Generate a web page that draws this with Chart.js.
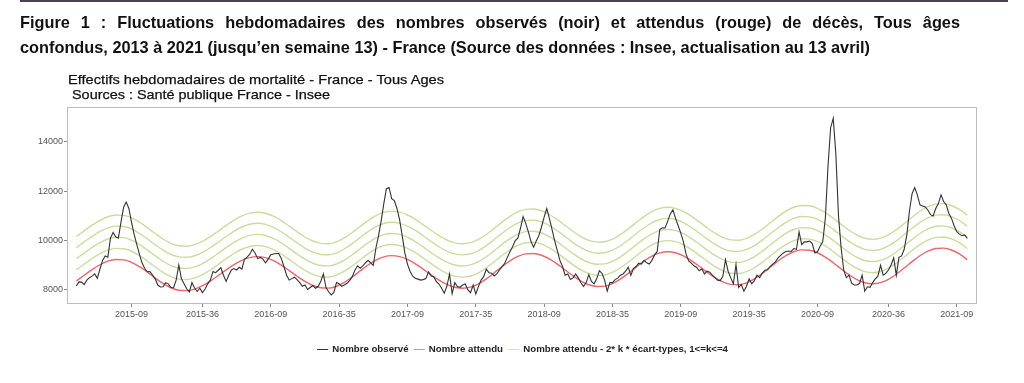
<!DOCTYPE html>
<html>
<head>
<meta charset="utf-8">
<script src="https://cdn.jsdelivr.net/npm/chart.js@4/dist/chart.umd.min.js"></script>
<style>
html,body{margin:0;padding:0;background:#fff;}
#wrap{position:relative;width:1024px;height:383px;overflow:hidden;background:#fff;}
#topline{position:absolute;left:20px;top:0;width:988px;height:2px;background:#4b3f5c;}
.t{position:absolute;white-space:nowrap;transform-origin:0 0;font-family:"Liberation Sans Narrow","Liberation Sans",Arial,sans-serif;color:#111;line-height:1;}
#fig1{left:20px;top:14px;font-size:16.5px;font-weight:bold;}
#fig2{left:20px;top:39px;font-size:16.5px;font-weight:bold;}
#ct1{left:68px;top:73px;font-size:13px;color:#111;-webkit-text-stroke:0.25px #111;}
#ct2{left:72px;top:88px;font-size:13px;color:#111;-webkit-text-stroke:0.25px #111;}
#legend{left:317px;top:344px;font-size:9.5px;font-weight:bold;color:#222;font-family:"Liberation Sans",Arial,sans-serif;}
#legend .sw{display:inline-block;width:11px;height:0;border-top:1.5px solid;vertical-align:middle;margin:0 4px 0 0;}
#legend .it{margin-right:5px;}
canvas{position:absolute;left:0;top:0;}
</style>
</head>
<body>
<div id="wrap">
<canvas id="c" width="1024" height="383"></canvas>
<div id="topline"></div>
<div class="t" id="fig1">Figure 1 : Fluctuations hebdomadaires des nombres observés (noir) et attendus (rouge) de décès, Tous âges</div>
<div class="t" id="fig2">confondus, 2013 à 2021 (jusqu’en semaine 13) - France (Source des données : Insee, actualisation au 13 avril)</div>
<div class="t" id="ct1">Effectifs hebdomadaires de mortalité  - France - Tous Ages</div>
<div class="t" id="ct2">Sources : Santé publique France - Insee</div>
<div class="t" id="legend"></div>
</div>
<script>
// ---------- DATA ----------
// ISO weeks covered: [year, first week, last week]
const weekRanges = [[2014,40,52],[2015,1,53],[2016,1,52],[2017,1,52],[2018,1,52],[2019,1,52],[2020,1,53],[2021,1,13]];
const tickLabels = ['2015-09','2015-36','2016-09','2016-35','2017-09','2017-35','2018-09','2018-35','2019-09','2019-35','2020-09','2020-36','2021-09'];
const yTicks = [8000,10000,12000,14000];

// Weekly observed deaths (black)
const observed = [
8160,8330,8320,8220,8400,8500,8560,8650,8470,8850,
9200,9380,9330,10100,10330,10150,10100,10750,11350,11560,
11300,10750,10250,9850,9450,9100,8880,8740,8750,8600,
8450,8200,8120,8130,8300,8250,8100,8090,8400,9010,
8450,8250,8050,7920,8300,8080,7940,8070,7890,8040,
8250,8400,8750,8700,8800,8900,8600,8350,8600,8810,
8870,8810,8920,8850,9250,9330,9450,9650,9500,9270,
9320,9250,9100,9250,9430,9460,9480,9480,9280,8950,
8600,8400,8460,8520,8420,8300,8150,8200,8020,8100,
8180,8070,8140,8340,8650,8100,7930,7800,7900,8300,
8250,8150,8200,8270,8380,8540,8800,8980,8880,8980,
9100,9200,9100,9000,9700,10200,10800,11500,12100,12150,
11700,11620,11300,10850,10200,9500,9050,8750,8560,8480,
8440,8400,8420,8460,8730,8570,8540,8340,8240,8070,
7870,8150,8650,7850,8300,8140,8110,8200,8240,8000,
7890,8200,7840,8135,8400,8540,8840,8700,8680,8570,
8650,8810,8945,9080,9320,9550,9755,10000,10100,10500,
10970,10700,10350,9960,9730,9980,10200,10550,10950,11300,
10900,10450,10000,9600,9200,8950,8600,8650,8430,8490,
8650,8490,8290,8140,8300,8620,8350,8250,8450,8780,
8680,8400,7950,8300,8300,8420,8480,8600,8650,8760,
8920,8590,8880,8950,9090,9050,9200,9100,9050,9200,
9420,9550,10450,10520,10510,10780,11080,11250,10900,10600,
10300,9950,9450,9180,9090,8980,8920,8780,8860,8650,
8760,8720,8600,8500,8400,8380,8550,9230,8760,8490,
8250,9030,8100,8220,7950,8150,8450,8250,8380,8600,
8500,8680,8800,8820,8960,9050,9140,9300,9400,9500,
9560,9580,9560,9680,9650,10350,9840,9950,9950,9980,
9880,9500,9550,9770,9950,10900,13000,14560,14950,13500,
11000,9700,8800,8500,8600,8280,8200,8200,8260,8600,
7950,8130,8110,8300,8450,8560,9000,8600,8670,8810,
9010,9300,8600,9320,9380,9650,10230,11200,11900,12150,
11850,11450,11400,11360,11240,11050,11000,11300,11500,11850,
11580,11450,11100,10900,10600,10360,10260,10200,10230,10090
];

// Expected deaths (red), read every 3rd week
const expectedEvery = 3;
const expected = [
8366,8595,8824,9022,9166,9235,9220,9119,8945,8724,
8486,8265,8091,7990,7974,8038,8172,8361,8583,8814,
9027,9200,9311,9350,9308,9189,9008,8787,8557,8346,
8183,8089,8075,8152,8310,8526,8772,9011,9211,9344,
9390,9350,9236,9060,8845,8615,8400,8224,8110,8070,
8116,8248,8448,8693,8947,9179,9360,9464,9480,9408,
9257,9050,8810,8570,8363,8212,8140,8156,8260,8441,
8673,8927,9171,9372,9504,9550,9506,9382,9192,8960,
8720,8499,8329,8229,8215,8292,8450,8668,8920,9172,
9390,9549,9624,9610,9508,9332,9105,8857,8619,8423,
8295,8250,8297,8432,8638,8888,9148,9387,9572,9679,
9695,9620,9464,9230
];
// standard deviation used for the green bands: expected + 2*k*sd, k = 1..4
const ecartType = 225;
const bandK = [1,2,3,4];

// ---------- BUILD ----------
const weeks = [];
weekRanges.forEach(([y,a,b]) => { for (let w=a; w<=b; w++) weeks.push(y + '-' + String(w).padStart(2,'0')); });

const FONT = '"Liberation Sans", Arial, sans-serif';
const obsPts = observed.map((v,i)=>({x:i,y:v}));
const expPts = expected.map((v,j)=>({x:j*expectedEvery,y:v}));
const bandSets = bandK.map(k => ({
  label: 'Nombre attendu - 2* k * écart-types, 1<=k<=4',
  data: expected.map((v,j)=>({x:j*expectedEvery,y:v + 2*k*ecartType})),
  borderColor:'#cbdd9e', borderWidth:1.4, pointRadius:0,
  cubicInterpolationMode:'monotone', fill:false
}));

const panelBorder = {
  id:'panelBorder',
  afterDraw(chart){
    const {ctx, chartArea:a} = chart;
    ctx.save();
    ctx.strokeStyle = '#bdbdbd'; ctx.lineWidth = 1;
    ctx.strokeRect(Math.round(a.left)+0.5, Math.round(a.top)+0.5, Math.round(a.right-a.left)-1, Math.round(a.bottom-a.top)-1);
    ctx.restore();
  }
};

new Chart(document.getElementById('c'), {
  type:'line',
  data:{datasets:[
    {label:'Nombre observé', data:obsPts, borderColor:'#333333', borderWidth:1.1, pointRadius:0, tension:0, fill:false},
    {label:'Nombre attendu', data:expPts, borderColor:'#e8686c', borderWidth:1.4, pointRadius:0, cubicInterpolationMode:'monotone', fill:false},
    ...bandSets
  ]},
  options:{
    responsive:false, animation:false, devicePixelRatio:1,
    layout:{padding:{left:0,right:47,top:107,bottom:59}},
    plugins:{legend:{display:false}, tooltip:{enabled:false}, title:{display:false}},
    scales:{
      x:{type:'linear', min:-3.54, max:342.7,
         afterFit(s){ s.height = 20; },
         afterBuildTicks(s){ s.ticks = tickLabels.map(l=>({value:weeks.indexOf(l)})); },
         ticks:{callback:(v)=>weeks[v], maxRotation:0, autoSkip:false, font:{size:9, family:FONT}, color:'#555', padding:2},
         grid:{drawOnChartArea:false, tickLength:3, color:'#888', tickColor:'#888'},
         border:{display:false}},
      y:{type:'linear', min:7433, max:15409,
         afterFit(s){ s.width = 67; },
         afterBuildTicks(s){ s.ticks = yTicks.map(v=>({value:v})); },
         ticks:{callback:(v)=>String(v), font:{size:9, family:FONT}, color:'#555', padding:1},
         grid:{drawOnChartArea:false, tickLength:3, color:'#888', tickColor:'#888'},
         border:{display:false}}
    }
  },
  plugins:[panelBorder]
});

// ---------- TEXT LAYOUT ----------
const lg = document.getElementById('legend');
[['Nombre observé','#333333'],['Nombre attendu','#ef8a8c'],['Nombre attendu - 2* k * écart-types, 1<=k<=4','#d3e4ae']].forEach(([t,c])=>{
  const s = document.createElement('span'); s.className='it';
  const sw = document.createElement('span'); sw.className='sw'; sw.style.borderColor=c;
  s.appendChild(sw); s.appendChild(document.createTextNode(t)); lg.appendChild(s);
});
function fitTo(id, target){
  const el = document.getElementById(id);
  const w = el.getBoundingClientRect().width;
  const k = target / w;
  el.style.transform = 'scaleX(' + k + ')';
  return k;
}
const k2 = fitTo('fig2', 850);
// first title line: same condensing, justified by word spacing
(function(){
  const el = document.getElementById('fig1');
  el.style.transform = 'scaleX(' + k2 + ')';
  const w = el.getBoundingClientRect().width;
  const nSp = (el.textContent.match(/ /g)||[]).length;
  const extra = (940 - w) / k2 / nSp;
  el.style.wordSpacing = extra + 'px';
})();
fitTo('ct1', 376);
fitTo('ct2', 258);
fitTo('legend', 416);
</script>
</body>
</html>
